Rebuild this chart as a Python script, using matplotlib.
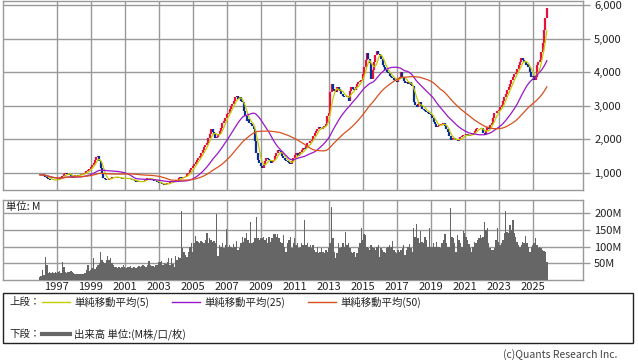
import numpy as np
import pandas as pd
import matplotlib
matplotlib.use('Agg')
import matplotlib.pyplot as plt
from matplotlib.lines import Line2D
from matplotlib.patches import Rectangle

plt.rcParams['font.family'] = ['Noto Sans CJK JP', 'DejaVu Sans']

# monthly closes (yen), Jan..Dec, 1996 - Nov 2025
closes = {
    1996: [950, 930, 960, 920, 890, 860, 830, 800, 790, 800, 780, 790],
    1997: [800, 820, 850, 870, 900, 980, 1000, 970, 950, 960, 900, 850],
    1998: [900, 930, 950, 920, 940, 960, 980, 1000, 990, 1050, 1090, 1120],
    1999: [1180, 1240, 1300, 1380, 1480, 1520, 1350, 1150, 980, 850, 820, 800],
    2000: [800, 830, 860, 880, 870, 890, 880, 860, 850, 840, 830, 850],
    2001: [860, 840, 820, 830, 810, 790, 780, 770, 740, 750, 740, 730],
    2002: [740, 760, 800, 830, 850, 840, 820, 800, 790, 770, 750, 730],
    2003: [710, 690, 670, 660, 650, 680, 690, 700, 720, 730, 750, 770],
    2004: [780, 800, 840, 870, 850, 880, 890, 920, 960, 990, 1080, 1150],
    2005: [1200, 1260, 1330, 1390, 1450, 1520, 1600, 1690, 1760, 1820, 1900, 2050],
    2006: [2150, 2300, 2230, 2150, 2050, 2080, 2150, 2250, 2350, 2490, 2550, 2650],
    2007: [2750, 2800, 2900, 3000, 3050, 3150, 3250, 3300, 3200, 3250, 3150, 3100],
    2008: [2850, 2700, 2550, 2600, 2500, 2450, 2400, 2300, 1950, 1600, 1400, 1300],
    2009: [1200, 1150, 1250, 1350, 1440, 1420, 1380, 1300, 1320, 1400, 1500, 1600],
    2010: [1680, 1650, 1600, 1500, 1450, 1400, 1350, 1320, 1300, 1280, 1350, 1450],
    2011: [1550, 1600, 1500, 1550, 1630, 1680, 1750, 1700, 1800, 1880, 1900, 1950],
    2012: [1980, 2100, 2200, 2250, 2300, 2380, 2350, 2300, 2380, 2400, 2450, 2700],
    2013: [2800, 3400, 3650, 3500, 3450, 3400, 3550, 3500, 3450, 3350, 3300, 3250],
    2014: [3250, 3300, 3150, 3450, 3570, 3500, 3470, 3550, 3650, 3720, 3750, 3780],
    2015: [3950, 4160, 4350, 4560, 4400, 4260, 3800, 4060, 4300, 4500, 4620, 4550],
    2016: [4510, 4400, 4210, 4150, 4070, 4000, 3970, 3900, 3850, 3820, 3780, 3750],
    2017: [3720, 3800, 3870, 4000, 3850, 3750, 3680, 3700, 3650, 3700, 3620, 3600],
    2018: [3100, 3020, 2970, 3050, 3120, 3000, 2900, 2870, 2850, 2820, 2800, 2750],
    2019: [2730, 2650, 2530, 2450, 2380, 2400, 2430, 2450, 2470, 2490, 2400, 2300],
    2020: [2230, 2100, 1980, 2000, 2040, 2000, 1980, 1950, 2000, 2080, 2100, 2120],
    2021: [2130, 2150, 2130, 2100, 2130, 2150, 2190, 2250, 2300, 2330, 2350, 2340],
    2022: [2340, 2200, 2130, 2250, 2380, 2300, 2430, 2500, 2650, 2780, 2800, 2850],
    2023: [2870, 2950, 3020, 3150, 3270, 3350, 3470, 3550, 3650, 3770, 3850, 3950],
    2024: [3970, 4100, 4210, 4300, 4410, 4350, 4310, 4200, 4250, 4160, 4000, 3870],
    2025: [3900, 3770, 3850, 4210, 4300, 4360, 4600, 4860, 5260, 5600, 5900],
}

# monthly volume (millions)
volumes = {
    1996: [10, 12, 30, 15, 70, 45, 22, 25, 20, 23, 22, 25],
    1997: [22, 24, 28, 20, 55, 40, 25, 22, 23, 24, 27, 25],
    1998: [20, 18, 17, 19, 18, 17, 19, 18, 20, 30, 45, 27],
    1999: [30, 35, 65, 33, 40, 45, 50, 85, 60, 55, 50, 60],
    2000: [72, 60, 65, 50, 45, 40, 38, 37, 38, 36, 40, 45],
    2001: [38, 37, 40, 38, 42, 36, 38, 40, 37, 38, 43, 40],
    2002: [42, 44, 43, 40, 45, 57, 44, 43, 42, 40, 45, 44],
    2003: [55, 54, 56, 45, 50, 48, 55, 65, 45, 65, 48, 40],
    2004: [73, 60, 70, 65, 207, 95, 83, 75, 70, 85, 100, 112],
    2005: [85, 110, 132, 117, 115, 112, 118, 115, 110, 120, 140, 110],
    2006: [127, 120, 115, 118, 110, 198, 72, 105, 100, 110, 95, 105],
    2007: [152, 100, 105, 100, 95, 108, 100, 117, 90, 95, 110, 130],
    2008: [115, 125, 140, 120, 110, 173, 110, 115, 125, 188, 125, 120],
    2009: [127, 126, 128, 120, 127, 110, 130, 115, 125, 137, 137, 130],
    2010: [137, 125, 115, 110, 135, 100, 85, 110, 120, 130, 95, 110],
    2011: [125, 105, 110, 95, 100, 110, 105, 180, 105, 110, 100, 105],
    2012: [95, 105, 90, 85, 100, 80, 85, 95, 85, 80, 90, 85],
    2013: [95, 110, 218, 127, 85, 67, 80, 110, 95, 100, 110, 100],
    2014: [145, 105, 110, 95, 85, 80, 85, 70, 80, 95, 110, 155],
    2015: [120, 137, 135, 100, 95, 90, 105, 100, 95, 90, 100, 105],
    2016: [70, 95, 90, 85, 80, 95, 100, 105, 100, 118, 90, 85],
    2017: [80, 90, 85, 90, 95, 105, 75, 90, 100, 107, 95, 85],
    2018: [155, 130, 168, 127, 110, 147, 115, 110, 130, 120, 100, 155],
    2019: [98, 100, 110, 100, 115, 100, 100, 95, 110, 120, 137, 110],
    2020: [100, 100, 217, 130, 125, 110, 85, 135, 120, 110, 100, 147],
    2021: [140, 130, 120, 107, 95, 85, 100, 115, 110, 120, 125, 135],
    2022: [125, 130, 175, 150, 155, 110, 95, 90, 90, 95, 120, 155],
    2023: [115, 105, 110, 120, 140, 208, 145, 140, 165, 150, 180, 140],
    2024: [130, 115, 105, 100, 105, 115, 110, 132, 110, 100, 85, 100],
    2025: [105, 110, 125, 105, 95, 100, 95, 90, 88, 85, 55],
}

price_ticks = [1000, 2000, 3000, 4000, 5000, 6000]
vol_ticks = [50, 100, 150, 200]
year_ticks = list(range(1997, 2026, 2))

# build the monthly series
t, close, vol = [], [], []
for y in closes:
    for m, c in enumerate(closes[y]):
        t.append(y + m / 12)
        close.append(c)
    vol += volumes[y]
t = np.array(t)
close = np.array(close, dtype=float)
vol = np.array(vol, dtype=float)
opn = np.r_[close[0], close[:-1]]

s = pd.Series(close)
ma5 = s.rolling(5, min_periods=1).mean()
ma25 = s.rolling(25, min_periods=1).mean()
ma50 = s.rolling(50, min_periods=1).mean()

W, H = 638, 362
fig = plt.figure(figsize=(W / 100, H / 100), dpi=100)
ax1 = fig.add_axes([3 / W, 1 - 190 / H, 580 / W, 189 / H])
ax2 = fig.add_axes([3 / W, 1 - 280 / H, 580 / W, 80 / H])

grid_c = '#999999'
xlim = (1993.84, 2027.96)

# price panel
up = close >= opn
ax1.vlines(t[up], opn[up], close[up], color='#e8103c', lw=1.6, zorder=3)
ax1.vlines(t[~up], opn[~up], close[~up], color='#0a2d94', lw=1.6, zorder=3)
ax1.plot(t, ma5, color='#c4cc00', lw=0.9, zorder=4)
ax1.plot(t, ma25, color='#9a16c8', lw=0.9, zorder=4)
ax1.plot(t, ma50, color='#d8501e', lw=0.9, zorder=4)
ax1.set_xlim(*xlim)
ax1.set_ylim(494, 6119)
ax1.set_xticks(year_ticks)
ax1.set_xticklabels([])
ax1.tick_params(axis='x', length=0)
ax1.yaxis.tick_right()
ax1.set_yticks(price_ticks)
ax1.set_yticklabels([f'{v:,}' for v in price_ticks])
ax1.grid(True, color=grid_c, lw=1)

# volume panel
ax2.bar(t, vol, width=1 / 12, color='#666666', align='center', zorder=3)
ax2.set_xlim(*xlim)
ax2.set_ylim(0, 239.5)
ax2.set_xticks(year_ticks)
ax2.set_xticklabels([str(y) for y in year_ticks])
ax2.tick_params(axis='x', length=0, pad=1.5)
ax2.yaxis.tick_right()
ax2.set_yticks(vol_ticks)
ax2.set_yticklabels([f'{v}M' for v in vol_ticks])
ax2.grid(True, color=grid_c, lw=1)
ax2.text(0.006, 0.97, '単位: M', transform=ax2.transAxes, va='top', ha='left',
         fontsize=7.5, color='#222222', zorder=5)

for ax in (ax1, ax2):
    ax.set_axisbelow(True)
    for sp in ax.spines.values():
        sp.set_color(grid_c)
        sp.set_linewidth(1)
    ax.tick_params(axis='y', length=5, color=grid_c, width=1, pad=3,
                   labelsize=8, labelcolor='#222222')
    ax.tick_params(axis='x', labelsize=8, labelcolor='#222222')

# legend box
fig.add_artist(Rectangle((3 / W, 1 - 343 / H), 630 / W, 50 / H, transform=fig.transFigure,
                         fill=False, edgecolor='#222222', lw=1))
r1 = 1 - 302 / H
r2 = 1 - 334 / H
fig.text(9 / W, r1, '上段：', fontsize=7.5, va='center', color='#222222')
items = [(42, '#c4cc00', '単純移動平均(5)'),
         (172, '#9a16c8', '単純移動平均(25)'),
         (308, '#d8501e', '単純移動平均(50)')]
for x0, c, lab in items:
    fig.add_artist(Line2D([x0 / W, (x0 + 28) / W], [r1, r1], transform=fig.transFigure, color=c, lw=1))
    fig.text((x0 + 32) / W, r1, lab, fontsize=7.5, va='center', color='#222222')
fig.text(9 / W, r2, '下段：', fontsize=7.5, va='center', color='#222222')
fig.add_artist(Line2D([42 / W, 70 / W], [r2, r2], transform=fig.transFigure, color='#666666', lw=3))
fig.text(74 / W, r2, '出来高 単位:(M株/口/枚)', fontsize=7.5, va='center', color='#222222')

fig.text(617 / W, 1 - 355 / H, '(c)Quants Research Inc.', fontsize=7.5, ha='right', va='center',
         color='#444444')

fig.savefig('out.png', dpi=100)
